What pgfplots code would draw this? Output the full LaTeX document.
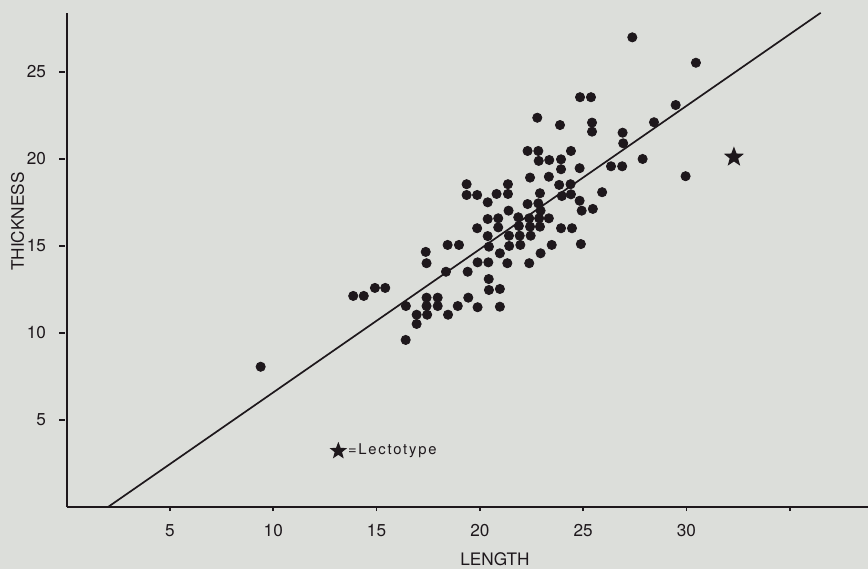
\documentclass[border=0pt]{standalone}
\usepackage{fontspec}
\setmainfont{TeX Gyre Heros}
\newfontfamily\spaced[LetterSpace=12]{TeX Gyre Heros}
\usepackage{pgfplots}
\usepackage{pgfplotstable}
\pgfplotsset{compat=1.18}
\usetikzlibrary{backgrounds}
\definecolor{bgc}{RGB}{220,222,218}
\definecolor{ink}{RGB}{30,24,28}
\pgfdeclareplotmark{fstar}{%
  \pgfpathmoveto{\pgfpointpolar{90}{\pgfplotmarksize}}%
  \pgfpathlineto{\pgfpointpolar{126}{0.42\pgfplotmarksize}}%
  \pgfpathlineto{\pgfpointpolar{162}{\pgfplotmarksize}}%
  \pgfpathlineto{\pgfpointpolar{198}{0.42\pgfplotmarksize}}%
  \pgfpathlineto{\pgfpointpolar{234}{\pgfplotmarksize}}%
  \pgfpathlineto{\pgfpointpolar{270}{0.42\pgfplotmarksize}}%
  \pgfpathlineto{\pgfpointpolar{306}{\pgfplotmarksize}}%
  \pgfpathlineto{\pgfpointpolar{342}{0.42\pgfplotmarksize}}%
  \pgfpathlineto{\pgfpointpolar{18}{\pgfplotmarksize}}%
  \pgfpathlineto{\pgfpointpolar{54}{0.42\pgfplotmarksize}}%
  \pgfpathclose\pgfusepathqfill}
\pgfplotstableread{
x y
9.39 8.06
13.87 12.13
14.38 12.13
14.92 12.59
15.42 12.59
16.41 9.60
16.42 11.55
16.94 11.05
16.94 10.52
17.38 14.66
17.42 14.01
17.42 12.03
17.42 11.55
17.45 11.05
17.96 12.03
17.96 11.55
18.36 13.52
18.44 15.06
18.46 11.05
18.93 11.55
18.99 15.06
19.36 18.55
19.36 17.93
19.41 13.52
19.44 12.03
19.87 17.93
19.87 16.02
19.89 14.06
19.89 11.48
20.38 17.51
20.38 16.55
20.38 15.57
20.44 14.96
20.41 14.06
20.43 13.10
20.44 12.47
20.81 17.99
20.89 16.59
20.89 16.07
20.97 14.58
20.97 12.53
20.97 11.51
21.33 14.01
21.36 18.55
21.36 17.99
21.39 17.03
21.41 15.59
21.42 15.00
21.86 16.65
21.89 16.15
21.93 15.59
21.96 15.06
22.31 20.46
22.31 17.41
22.39 16.59
22.39 14.01
22.43 18.93
22.43 16.11
22.46 15.59
22.78 22.37
22.83 20.46
22.83 17.45
22.85 19.89
22.87 16.59
22.91 18.03
22.91 16.11
22.94 17.03
22.94 14.58
23.34 18.98
23.34 16.59
23.36 19.94
23.48 15.06
23.84 18.51
23.88 21.95
23.93 19.98
23.93 19.41
23.93 16.02
23.97 17.87
24.39 18.55
24.41 20.46
24.41 17.97
24.46 16.02
24.83 19.47
24.83 17.60
24.85 23.55
24.89 15.11
24.93 17.03
25.38 23.55
25.43 22.09
25.43 21.57
25.47 17.13
25.92 18.09
26.35 19.58
26.89 19.58
26.91 21.51
26.94 20.90
27.38 26.99
27.88 20.00
28.43 22.11
29.48 23.10
29.96 19.01
30.46 25.53
}\dots
\pgfplotstableread{
x y
2.0 0
36.5 28.4
}\fitline
\pgfplotstableread{
x y
32.30 20.11
}\lecto
\pgfplotstableread{
x y
13.15 3.22
}\legstar
\begin{document}
\begin{tikzpicture}[show background rectangle,
  background rectangle/.style={fill=bgc,draw=none}, inner frame sep=0pt]
\begin{axis}[name=ax, scale only axis, width=400.65pt, height=247.1pt,
  xmin=0, xmax=38.79, ymin=0, ymax=28.4,
  axis lines*=left, ytick pos=left, xtick pos=bottom, clip=false,
  axis line style={line width=1pt, ink},
  xtick={5,10,15,20,25,30,35}, xticklabels={5,10,15,20,25,30,{}},
  ytick={5,10,15,20,25},
  tick align=outside, major tick length=5pt,
  xtick style={line width=0.8pt, draw=ink, dash pattern=on 0pt off 2.9pt on 2.1pt off 20pt},
  ytick style={line width=1.3pt, draw=ink, dash pattern=on 0pt off 1.4pt on 2.6pt off 20pt},
  xticklabel shift=0.3pt, yticklabel shift=1.8pt,
  ticklabel style={font=\fontsize{8.6}{10}\selectfont, text=ink},
  /pgf/number format/assume math mode=true,
  ]
\addplot[only marks, mark=*, mark size=2.3pt, mark options={draw=ink, fill=ink}] table {\dots};
\addplot[ink, line width=0.85pt, no marks] table {\fitline};
\addplot[only marks, mark=fstar, mark size=5.3pt, mark options={fill=ink}] table {\lecto};
\addplot[only marks, mark=fstar, mark size=4.6pt, mark options={fill=ink}] table {\legstar};
\draw[ink, line width=1.3pt] ([xshift=-1.4pt]axis cs:0,5) -- ([xshift=-4pt]axis cs:0,5);
\draw[ink, line width=1.3pt] ([xshift=-1.4pt]axis cs:0,10) -- ([xshift=-4pt]axis cs:0,10);
\draw[ink, line width=1.3pt] ([xshift=-1.4pt]axis cs:0,15) -- ([xshift=-4pt]axis cs:0,15);
\draw[ink, line width=1.3pt] ([xshift=-1.4pt]axis cs:0,20) -- ([xshift=-4pt]axis cs:0,20);
\draw[ink, line width=1.3pt] ([xshift=-1.4pt]axis cs:0,25) -- ([xshift=-4pt]axis cs:0,25);
\node[anchor=west, inner sep=0pt, text=ink, font=\spaced\fontsize{7.4}{8}\selectfont] at (axis cs:13.6,3.22) {=Lectotype};
\node[text=ink, font=\fontsize{8.6}{10}\selectfont, yshift=-26pt] at (axis cs:20.73,0) {LENGTH};
\node[text=ink, xshift=-24.6pt, rotate=90, font=\fontsize{8.6}{10}\selectfont] at (axis cs:0,16.4) {THICKNESS};
\end{axis}
\pgfresetboundingbox
\path[use as bounding box] ([xshift=-33.35pt,yshift=-31pt]ax.south west) rectangle ([yshift=6.4pt]ax.north east);
\end{tikzpicture}
\end{document}
